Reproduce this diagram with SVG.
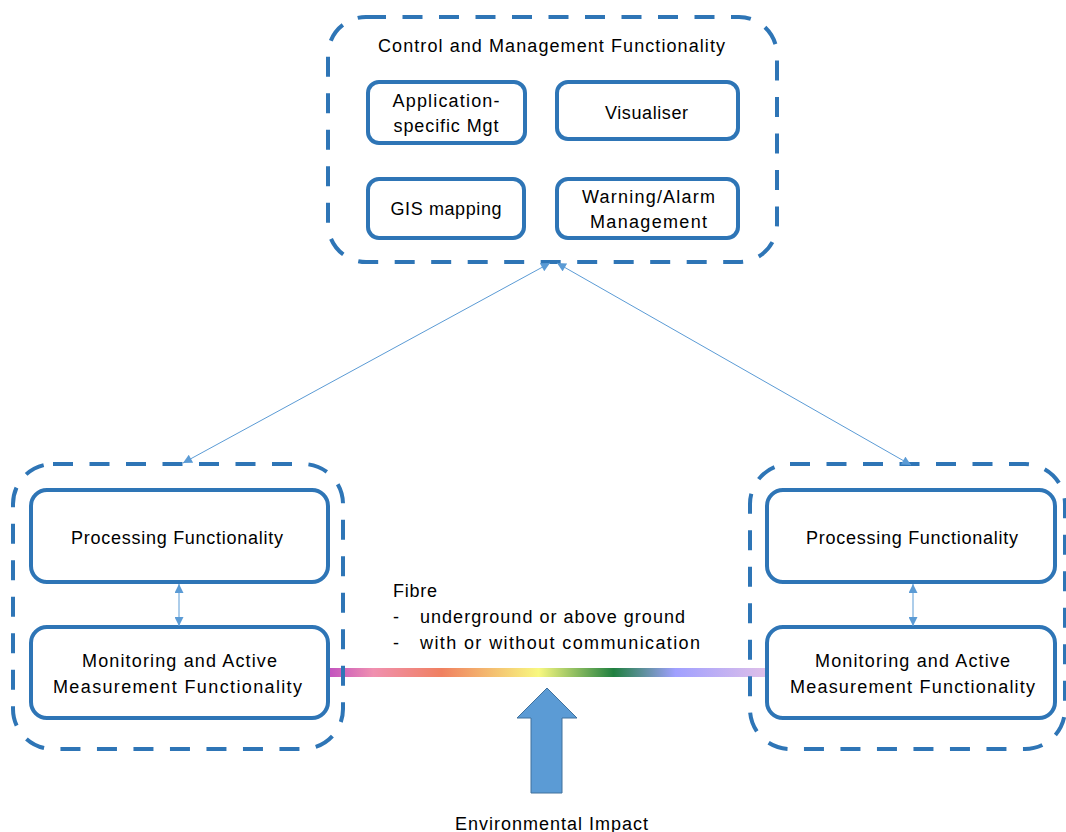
<svg xmlns="http://www.w3.org/2000/svg" width="1066" height="832" viewBox="0 0 1066 832">
<style>
.cont{fill:none;stroke:#2e75b6;stroke-width:4;stroke-dasharray:20 16.5}
.box{fill:#fff;stroke:#2e75b6;stroke-width:4}
.t{font-family:"Liberation Sans",Arial,sans-serif;font-size:18px;fill:#000}
.m{text-anchor:middle}
.con{fill:none;stroke:#5b9bd5;stroke-width:1}
</style>
<defs>
<marker id="ah" viewBox="0 0 10 10" refX="10" refY="5" markerWidth="10" markerHeight="9" markerUnits="userSpaceOnUse" orient="auto-start-reverse">
<path d="M0,0 L10,5 L0,10 Z" fill="#5b9bd5"/>
</marker>
<linearGradient id="fib" x1="0" y1="0" x2="1" y2="0">
<stop offset="0" stop-color="#c050c0"/>
<stop offset="0.105" stop-color="#f090b0"/>
<stop offset="0.26" stop-color="#f08060"/>
<stop offset="0.48" stop-color="#f8f880"/>
<stop offset="0.65" stop-color="#208040"/>
<stop offset="0.79" stop-color="#a0a0ff"/>
<stop offset="1" stop-color="#e0c0e8"/>
</linearGradient>
</defs>
<rect width="1066" height="832" fill="#fff"/>
<g id="fibre">
<rect x="327" y="668" width="441" height="9" fill="url(#fib)"/>
<text class="t" x="393" y="597" textLength="44">Fibre</text>
<text class="t" x="393" y="623">-</text>
<text class="t" x="420" y="623" textLength="265">underground or above ground</text>
<text class="t" x="393" y="649">-</text>
<text class="t" x="420" y="649" textLength="280">with or without communication</text>
</g>
<g id="control">
<rect class="cont" x="328" y="17" width="449" height="245" rx="38"/>
<text class="t m" x="551.5" y="52" textLength="347">Control and Management Functionality</text>
</g>
<g id="appmgt">
<rect class="box" x="368" y="82" width="157" height="61" rx="11"/>
<text class="t m" x="446" y="107" textLength="107">Application-</text>
<text class="t m" x="446" y="132" textLength="105">specific Mgt</text>
</g>
<g id="visualiser">
<rect class="box" x="557" y="82" width="181" height="57" rx="11"/>
<text class="t m" x="646.5" y="119" textLength="83">Visualiser</text>
</g>
<g id="gis">
<rect class="box" x="368" y="179" width="156" height="59" rx="11"/>
<text class="t m" x="446" y="215" textLength="111">GIS mapping</text>
</g>
<g id="warning">
<rect class="box" x="557" y="179" width="181" height="59" rx="11"/>
<text class="t m" x="648.5" y="203" textLength="133">Warning/Alarm</text>
<text class="t m" x="648.5" y="228" textLength="117">Management</text>
</g>
<g id="left">
<rect class="cont" x="13" y="464" width="330" height="285" rx="40"/>
</g>
<g id="left-proc">
<rect class="box" x="31" y="490" width="297" height="92" rx="16"/>
<text class="t m" x="177" y="544" textLength="212">Processing Functionality</text>
</g>
<g id="left-mon">
<rect class="box" x="31" y="627" width="297" height="91" rx="16"/>
<text class="t m" x="179.5" y="667" textLength="195">Monitoring and Active</text>
<text class="t m" x="177.5" y="693" textLength="249">Measurement  Functionality</text>
</g>
<g id="right">
<rect class="cont" x="750" y="464" width="315" height="285" rx="40"/>
</g>
<g id="right-proc">
<rect class="box" x="767" y="490" width="288" height="92" rx="16"/>
<text class="t m" x="912" y="544" textLength="212">Processing Functionality</text>
</g>
<g id="right-mon">
<rect class="box" x="767" y="627" width="288" height="91" rx="16"/>
<text class="t m" x="912.5" y="667" textLength="195">Monitoring and Active</text>
<text class="t m" x="912.5" y="693" textLength="245">Measurement Functionality</text>
</g>
<g id="env">
<path d="M547,688 L577,718 L562,718 L562,793 L531,793 L531,718 L517,718 Z" fill="#5b9bd5" stroke="#41719c" stroke-width="1"/>
<text class="t m" x="551.5" y="830" textLength="193">Environmental Impact</text>
</g>
<g id="connectors">
<line class="con" x1="183" y1="463" x2="550" y2="263" marker-start="url(#ah)" marker-end="url(#ah)"/>
<line class="con" x1="557" y1="263" x2="911" y2="465" marker-start="url(#ah)" marker-end="url(#ah)"/>
<line class="con" x1="179" y1="584" x2="179" y2="626" marker-start="url(#ah)" marker-end="url(#ah)"/>
<line class="con" x1="913" y1="584" x2="913" y2="626" marker-start="url(#ah)" marker-end="url(#ah)"/>
</g>
</svg>
